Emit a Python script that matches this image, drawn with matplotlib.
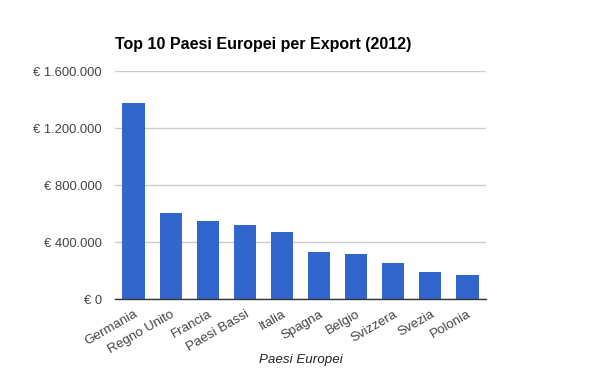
import matplotlib
matplotlib.use("Agg")
import matplotlib.pyplot as plt
from matplotlib.ticker import FuncFormatter

# Export 2012 per paese
paesi = ["Germania", "Regno Unito", "Francia", "Paesi Bassi", "Italia",
         "Spagna", "Belgio", "Svizzera", "Svezia", "Polonia"]
export = [1377000, 606000, 550000, 522000, 473000,
          332000, 318000, 255000, 192000, 171000]
y_ticks = [0, 400000, 800000, 1200000, 1600000]

plt.rcParams['font.family'] = ['Liberation Sans', 'DejaVu Sans']

fig = plt.figure(figsize=(6, 3.71), dpi=100)
ax = fig.add_axes([115/600, 1 - 299.3/371, (486-115)/600, (299.3-71.3)/371])

x = range(len(paesi))
ax.bar(x, export, width=0.6, color="#3366cc", zorder=3)

ax.set_xlim(-0.5, len(paesi) - 0.5)
ax.set_ylim(0, 1600000)
ax.set_yticks(y_ticks)

def euro(v, pos):
    s = "{:,.0f}".format(v).replace(",", ".")
    return "\u20ac " + s

ax.yaxis.set_major_formatter(FuncFormatter(euro))
ax.grid(axis="y", color="#cccccc", linewidth=1, zorder=0)
ax.tick_params(axis="y", length=0, pad=9.4, labelsize=9.4, labelcolor="#444444")
ax.tick_params(axis="x", length=0, pad=6.5, labelsize=9.6, labelcolor="#444444")

ax.set_xticks(list(x))
ax.set_xticklabels(paesi, rotation=30, ha="right", rotation_mode="anchor")

for side in ["top", "right", "left"]:
    ax.spines[side].set_visible(False)
ax.spines["bottom"].set_color("#333333")
ax.spines["bottom"].set_linewidth(1)
ax.spines["bottom"].set_zorder(4)

fig.text(115/600, 1 - 45/371, "Top 10 Paesi Europei per Export (2012)",
         fontsize=11.5, fontweight="bold", color="black", va="center", ha="left")
fig.text((115+486)/2/600, 1 - 360/371, "Paesi Europei", fontsize=9.6,
         style="italic", color="#222222", ha="center", va="center")

fig.savefig("out.png", dpi=100)
